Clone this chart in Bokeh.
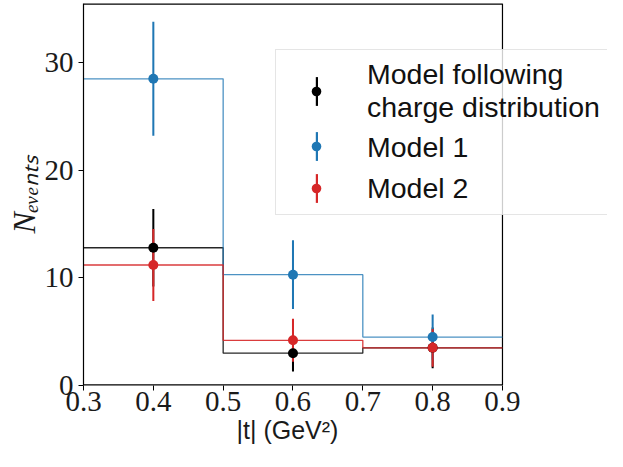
from bokeh.plotting import figure
from bokeh.models import Legend, LegendItem, FixedTicker, Range1d, Title
from bokeh.embed import file_html
from bokeh.resources import INLINE

# ---------------- data ----------------
bin_edges = [0.3, 0.5, 0.7, 0.9]
bin_centers = [0.4, 0.6, 0.8]

charge_vals = [12.8, 3.0, 3.5]
charge_err = [3.6, 1.7, 1.9]

model1_vals = [28.5, 10.3, 4.5]
model1_err = [5.3, 3.2, 2.1]

model2_vals = [11.2, 4.2, 3.5]
model2_err = [3.35, 2.0, 1.75]

x_ticks = [0.3, 0.4, 0.5, 0.6, 0.7, 0.8, 0.9]
y_ticks = [0, 10, 20, 30]

series_labels = ["Model following\ncharge distribution", "Model 1", "Model 2"]
series_colors = ["#000000", "#1f77b4", "#d62728"]

x_lo, x_hi = 0.3, 0.9          # axis limits of the data area
y_lo, y_hi = 0.0, 35.5
x_view_end = 1.0504            # canvas continues to the right (legend overhang)

# ---------------- figure ----------------
p = figure(width=607, height=451, output_backend="svg", toolbar_location=None,
           x_range=Range1d(x_lo, x_view_end), y_range=Range1d(y_lo, y_hi),
           min_border_left=83, min_border_right=0, min_border_top=3,
           min_border_bottom=66)
p.grid.visible = False
p.outline_line_color = None
p.background_fill_color = "white"
p.border_fill_color = "white"

tick_col = "#1a1a1a"
for ax, ticks in ((p.xaxis, x_ticks), (p.yaxis, y_ticks)):
    ax.ticker = FixedTicker(ticks=ticks, minor_ticks=[])
    ax.major_tick_in = 0
    ax.major_tick_out = 5
    ax.minor_tick_line_color = None
    ax.major_label_text_font = "Liberation Serif"
    ax.major_label_text_font_size = "29px"
    ax.major_label_text_color = tick_col
    ax.major_tick_line_width = 1
p.xaxis.axis_line_color = None
p.yaxis.axis_line_width = 1.2
p.xaxis.major_label_standoff = 1
p.yaxis.major_label_standoff = 5

p.yaxis.axis_label = "N\u2091\u1d65\u2091\u2099\u209c\u209b"
p.yaxis.axis_label_text_font = "Liberation Serif"
p.yaxis.axis_label_text_font_style = "italic"
p.yaxis.axis_label_text_font_size = "32px"
p.yaxis.axis_label_text_color = tick_col
p.yaxis.axis_label_standoff = 0

p.add_layout(Title(text="|t| (GeV\u00b2)", align="left", offset=153, standoff=0,
                   text_font="Liberation Sans", text_font_size="25px",
                   text_font_style="normal", text_color=tick_col), "below")

# frame lines of the data area (bottom, top, right)
p.segment(x0=[x_lo, x_lo, x_hi], y0=[y_lo, y_hi, y_lo],
          x1=[x_hi, x_hi, x_hi], y1=[y_lo, y_hi, y_hi],
          line_color="#000000", line_width=[2.4, 2.4, 1.2])

all_vals = [charge_vals, model1_vals, model2_vals]
all_errs = [charge_err, model1_err, model2_err]
step_alpha = [0.85, 0.8, 0.9]

# step histograms (black, blue, red)
for vals, col, a in zip(all_vals, series_colors, step_alpha):
    p.step(x=bin_edges, y=vals + [vals[-1]], mode="after", line_color=col,
           line_width=1.3, line_alpha=a)

# error bars as thin vertical bars
bar_renderers = []
for vals, errs, col in zip(all_vals, all_errs, series_colors):
    lo = [v - e for v, e in zip(vals, errs)]
    hi = [v + e for v, e in zip(vals, errs)]
    r = p.vbar(x=bin_centers, bottom=lo, top=hi, width=0.0029,
               fill_color=col, line_color=None)
    bar_renderers.append(r)

# markers
dot_renderers = []
for vals, col in zip(all_vals, series_colors):
    r = p.scatter(x=bin_centers, y=vals, size=10, fill_color=col, line_color=None)
    dot_renderers.append(r)

# ---------------- legend ----------------
# box with the labels (runs past the right edge, as in the original)
leg_bg = Legend(items=[LegendItem(label=l, renderers=[r]) for l, r in zip(series_labels, dot_renderers)],
                location=(192, 170), glyph_width=0, glyph_height=24, label_standoff=83,
                padding=8, spacing=5, label_height=36, label_width=260, margin=0,
                label_text_font="Liberation Sans", label_text_font_size="28.5px",
                label_text_line_height=1.0, label_text_color="#111111",
                background_fill_alpha=0.8, border_line_color="#cccccc", border_line_width=1)
p.add_layout(leg_bg, "center")

# marker + errorbar symbols, one small legend per entry
dot_bottoms = [282, 227.5, 185.5]
bar_bottoms = [276, 221.5, 179.5]
glyph_common = dict(padding=0, spacing=0, margin=0, label_height=0, label_width=0,
                    label_standoff=0, label_text_font_size="1px",
                    background_fill_alpha=0, border_line_color=None)
for r, yb in zip(dot_renderers, dot_bottoms):
    p.add_layout(Legend(items=[LegendItem(label=" ", renderers=[r])], location=(221, yb),
                        glyph_width=24, glyph_height=24, **glyph_common), "center")
for r, yb in zip(bar_renderers, bar_bottoms):
    p.add_layout(Legend(items=[LegendItem(label=" ", renderers=[r])], location=(231.5, yb),
                        glyph_width=3, glyph_height=36, **glyph_common), "center")

open("out.html", "w").write(file_html(p, INLINE))
